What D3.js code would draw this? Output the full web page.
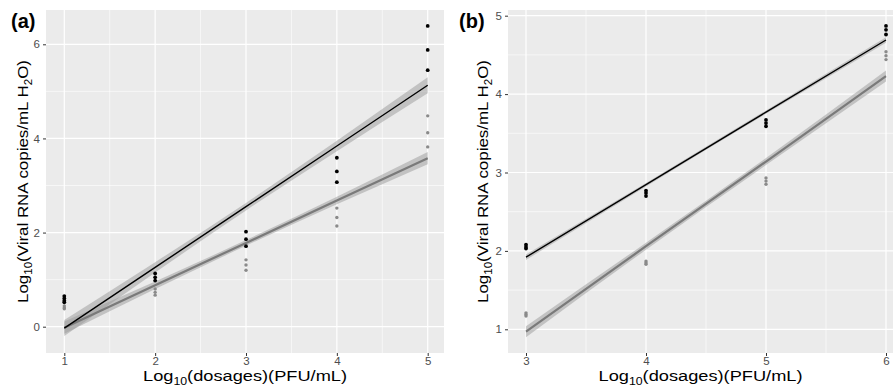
<!DOCTYPE html>
<html><head><meta charset="utf-8">
<script src="https://cdn.jsdelivr.net/npm/d3@7"></script>
<style>body{margin:0;background:#fff}svg{display:block;font-family:"Liberation Sans",Arial,sans-serif}</style>
</head><body><svg id="c" width="896" height="388"></svg>
<script>
// ---- Panel (a) data ----
const aX = [1, 2, 3, 4, 5];
const aBlack = [[0.65, 0.6, 0.55, 0.52], [1.13, 1.05, 0.98], [2.02, 1.86, 1.71], [3.59, 3.30, 3.07], [6.39, 5.88, 5.45]];
const aGray = [[0.44, 0.40, 0.38], [0.80, 0.73, 0.67], [1.42, 1.31, 1.20], [2.52, 2.32, 2.14], [4.48, 4.12, 3.82]];
const aFitBlack = [-0.03, 1.26, 2.55, 3.84, 5.13];
const aBandBlack = [0.17, 0.11, 0.08, 0.11, 0.17];
const aFitGray = [-0.02, 0.88, 1.78, 2.68, 3.58];
const aBandGray = [0.13, 0.08, 0.06, 0.08, 0.13];
const aYTicks = [0, 2, 4, 6];
const aYMinor = [1, 3, 5];
const aXMinor = [1.5, 2.5, 3.5, 4.5];

// ---- Panel (b) data ----
const bX = [3, 4, 5, 6];
const bBlack = [[2.08, 2.05, 2.03], [2.77, 2.74, 2.70], [3.67, 3.63, 3.59], [4.87, 4.82, 4.76]];
const bGray = [[1.21, 1.19, 1.17], [1.87, 1.85, 1.83], [2.93, 2.89, 2.85], [4.54, 4.49, 4.44]];
const bFitBlack = [1.92, 2.845, 3.77, 4.69];
const bBandBlack = [0.035, 0.022, 0.022, 0.035];
const bFitGray = [0.97, 2.06, 3.14, 4.23];
const bBandGray = [0.07, 0.045, 0.045, 0.07];
const bYTicks = [1, 2, 3, 4, 5];
const bYMinor = [1.5, 2.5, 3.5, 4.5];
const bXMinor = [3.5, 4.5, 5.5];

const svg = d3.select("#c");

function panel(cfg) {
  const g = svg.append("g");
  const {x, y, box} = cfg;
  const clipId = "clip" + cfg.label;
  svg.append("clipPath").attr("id", clipId).append("rect")
    .attr("x", box.l).attr("y", box.t).attr("width", box.r - box.l).attr("height", box.b - box.t);
  g.append("rect").attr("x", box.l).attr("y", box.t).attr("width", box.r - box.l).attr("height", box.b - box.t).attr("fill", "#ebebeb");
  const grid = g.append("g");
  cfg.yMinor.forEach(v => grid.append("line").attr("x1", box.l).attr("x2", box.r).attr("y1", y(v)).attr("y2", y(v)).attr("stroke", "#fff").attr("stroke-width", 0.6));
  cfg.xMinor.forEach(v => grid.append("line").attr("y1", box.t).attr("y2", box.b).attr("x1", x(v)).attr("x2", x(v)).attr("stroke", "#fff").attr("stroke-width", 0.6));
  cfg.yTicks.forEach(v => grid.append("line").attr("x1", box.l).attr("x2", box.r).attr("y1", y(v)).attr("y2", y(v)).attr("stroke", "#fff").attr("stroke-width", 1.2));
  cfg.xs.forEach(v => grid.append("line").attr("y1", box.t).attr("y2", box.b).attr("x1", x(v)).attr("x2", x(v)).attr("stroke", "#fff").attr("stroke-width", 1.2));

  const plot = g.append("g").attr("clip-path", `url(#${clipId})`);
  const area = d3.area().x(d => x(d.x)).y0(d => y(d.f - d.w)).y1(d => y(d.f + d.w)).curve(d3.curveNatural);
  const line = d3.line().x(d => x(d.x)).y(d => y(d.f));
  const fits = [
    {fit: cfg.fitGray, band: cfg.bandGray, color: "#7a7a7a", w: 2.2},
    {fit: cfg.fitBlack, band: cfg.bandBlack, color: "#000", w: 1.4}
  ];
  fits.forEach(s => {
    const d = cfg.xs.map((xv, i) => ({x: xv, f: s.fit[i], w: s.band[i]}));
    plot.append("path").datum(d).attr("d", area).attr("fill", "#999").attr("fill-opacity", 0.5);
  });
  fits.forEach(s => {
    const d = cfg.xs.map((xv, i) => ({x: xv, f: s.fit[i], w: s.band[i]}));
    plot.append("path").datum(d).attr("d", line).attr("fill", "none").attr("stroke", s.color).attr("stroke-width", s.w);
  });
  cfg.xs.forEach((xv, i) => {
    cfg.gray[i].forEach(v => plot.append("circle").attr("cx", x(xv)).attr("cy", y(v)).attr("r", 1.7).attr("fill", "#8a8a8a"));
    cfg.black[i].forEach(v => plot.append("circle").attr("cx", x(xv)).attr("cy", y(v)).attr("r", 1.9).attr("fill", "#000"));
  });

  // axes
  const yAxis = d3.axisLeft(y).tickValues(cfg.yTicks).tickSize(3).tickPadding(3).tickFormat(d3.format("d"));
  const ya = g.append("g").attr("transform", `translate(${box.l},0)`).call(yAxis);
  const xAxis = d3.axisBottom(x).tickValues(cfg.xs).tickSize(3).tickPadding(1).tickFormat(d3.format("d"));
  const xa = g.append("g").attr("transform", `translate(0,${box.b})`).call(xAxis);
  [ya, xa].forEach(a => {
    a.select(".domain").remove();
    a.selectAll(".tick line").attr("stroke", "#333");
    a.selectAll(".tick text").attr("fill", "#4d4d4d").attr("font-size", 11.5).attr("font-family", "Liberation Sans, Arial, sans-serif");
  });

  // x title
  const xt = g.append("text").attr("x", (box.l + box.r) / 2).attr("y", 381).attr("text-anchor", "middle")
    .attr("font-size", 15.5).attr("fill", "#000").attr("textLength", 204).attr("lengthAdjust", "spacingAndGlyphs");
  xt.append("tspan").text("Log");
  xt.append("tspan").text("10").attr("font-size", 10.5).attr("dy", 4);
  xt.append("tspan").text("(dosages)(PFU/mL)").attr("dy", -4);

  // y title
  const yt = g.append("text").attr("transform", `translate(${cfg.yTitleX},${(box.t + box.b) / 2}) rotate(-90)`).attr("text-anchor", "middle")
    .attr("font-size", 15.5).attr("fill", "#000").attr("textLength", 243).attr("lengthAdjust", "spacingAndGlyphs");
  yt.append("tspan").text("Log");
  yt.append("tspan").text("10").attr("font-size", 10.5).attr("dy", 4);
  yt.append("tspan").text("(Viral RNA copies/mL H").attr("dy", -4);
  yt.append("tspan").text("2").attr("font-size", 10.5).attr("dy", 4);
  yt.append("tspan").text("O)").attr("dy", -4);

  g.append("text").attr("x", cfg.labelX).attr("y", 28).attr("font-size", 20).attr("font-weight", "bold").attr("fill", "#000").text(`(${cfg.label})`);
}

panel({
  label: "a", labelX: 11, yTitleX: 28,
  box: {l: 46, r: 444, t: 10, b: 353},
  x: d3.scaleLinear().domain([1, 5]).range([64.3, 427.7]),
  y: d3.scaleLinear().domain([0, 6]).range([326.7, 44.3]),
  xs: aX, black: aBlack, gray: aGray,
  fitBlack: aFitBlack, bandBlack: aBandBlack, fitGray: aFitGray, bandGray: aBandGray,
  yTicks: aYTicks, yMinor: aYMinor, xMinor: aXMinor
});
panel({
  label: "b", labelX: 459, yTitleX: 488,
  box: {l: 508, r: 893, t: 10, b: 353},
  x: d3.scaleLinear().domain([3, 6]).range([526, 886]),
  y: d3.scaleLinear().domain([1, 5]).range([329.3, 15.7]),
  xs: bX, black: bBlack, gray: bGray,
  fitBlack: bFitBlack, bandBlack: bBandBlack, fitGray: bFitGray, bandGray: bBandGray,
  yTicks: bYTicks, yMinor: bYMinor, xMinor: bXMinor
});
</script></body></html>
